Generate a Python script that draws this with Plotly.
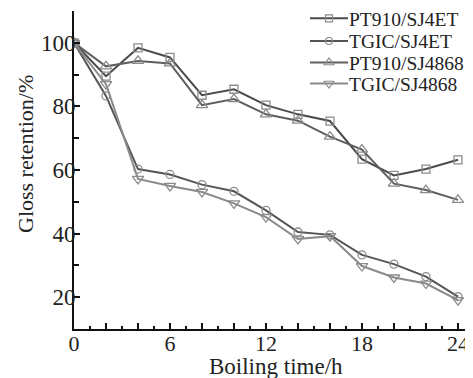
import plotly.graph_objects as go

hours = [0, 2, 4, 6, 8, 10, 12, 14, 16, 18, 20, 22, 24]
pt910_sj4et = [100, 89.5, 98.4, 95.4, 83.5, 85.4, 80.4, 77.5, 75.4, 63.4, 58.3, 60.3, 63.2]
tgic_sj4et = [100, 83.3, 60.3, 58.6, 55.4, 53.3, 47.3, 40.5, 39.6, 33.3, 30.4, 26.5, 20.2]
pt910_sj4868 = [100, 92.6, 94.3, 93.5, 80.4, 82.3, 77.5, 75.5, 70.5, 66.4, 55.7, 53.7, 50.6]
tgic_sj4868 = [100, 87.0, 57.2, 55.0, 53.1, 49.5, 45.2, 38.3, 39.2, 29.8, 26.2, 24.3, 19.1]

series_names = ["PT910/SJ4ET", "TGIC/SJ4ET", "PT910/SJ4868", "TGIC/SJ4868"]
series_vals = [pt910_sj4et, tgic_sj4et, pt910_sj4868, tgic_sj4868]
symbols = ["square-open", "circle-open", "triangle-up-open", "triangle-down-open"]
line_colors = ["#4a4a4a", "#555555", "#5e5e5e", "#8a8a8a"]
marker_sizes = [8, 8, 10, 10]

x_tickvals = list(range(0, 25, 2))
x_ticktext = [str(v) if v % 6 == 0 else "" for v in x_tickvals]
y_tickvals = [20, 40, 60, 80, 100]

# page body has an 8px margin: build the figure 8px smaller and shifted
OFF = 8
W, H = 473 - OFF, 378 - OFF
ML, MR, MT, MB = 74 - OFF, 0, 11 - OFF, 49
PW, PH = W - ML - MR, H - MT - MB
font = "Liberation Serif, Times New Roman, serif"
marker_color = "#8c8c8c"
text_color = "#222222"


def xp(sx):
    return (sx - OFF - ML) / PW


def yp(sy):
    return 1 - (sy - OFF - MT) / PH


fig = go.Figure()
for name, vals, sym, col, ms in zip(series_names, series_vals, symbols, line_colors, marker_sizes):
    fig.add_trace(go.Scatter(
        x=hours, y=vals, name=name, mode="lines+markers", showlegend=False,
        line=dict(color=col, width=2),
        marker=dict(symbol=sym, size=ms, color=marker_color, line=dict(width=1.3, color=marker_color)),
    ))

# Custom legend drawn on a hidden overlay axis measured in screen pixels
legend_rows = [18.3, 41.0, 62.5, 83.5]
leg_x0, leg_x1, leg_text_x = 310, 348, 347
for name, sym, col, ms, ry in zip(series_names, symbols, line_colors, marker_sizes, legend_rows):
    fig.add_trace(go.Scatter(
        x=[leg_x0, leg_x1], y=[ry, ry], mode="lines", xaxis="x2", yaxis="y2",
        line=dict(color=col, width=2), showlegend=False, hoverinfo="skip",
    ))
    fig.add_trace(go.Scatter(
        x=[(leg_x0 + leg_x1) / 2], y=[ry], mode="markers", xaxis="x2", yaxis="y2",
        marker=dict(symbol=sym, size=ms - 1, color=marker_color, line=dict(width=1.2, color=marker_color)),
        showlegend=False, hoverinfo="skip",
    ))
    fig.add_annotation(
        x=xp(leg_text_x), y=yp(ry + 1), xref="paper", yref="paper", text=name, showarrow=False,
        xanchor="left", yanchor="middle", font=dict(size=19.5, family=font, color=text_color),
    )

# Axis titles
fig.add_annotation(
    x=xp(276), y=yp(366), xref="paper", yref="paper", text="Boiling time/h", showarrow=False,
    xanchor="center", yanchor="middle",
    font=dict(size=23, family=font, color=text_color),
)
fig.add_annotation(
    x=xp(25), y=yp(154), xref="paper", yref="paper", text="Gloss retention/%", showarrow=False,
    textangle=-90, xanchor="center", yanchor="middle",
    font=dict(size=22, family=font, color=text_color),
)

fig.update_layout(
    width=W, height=H,
    margin=dict(l=ML, r=MR, t=MT, b=MB),
    paper_bgcolor="white", plot_bgcolor="white",
    font=dict(family=font, color=text_color, size=22),
    showlegend=False,
    xaxis=dict(
        range=[0, 24.94], showgrid=False, zeroline=False, automargin=False,
        showline=True, linecolor="#111111", linewidth=2,
        tickvals=x_tickvals, ticktext=x_ticktext,
        ticks="inside", ticklen=6, tickwidth=2, tickcolor="#111111",
        minor=dict(dtick=1, tick0=0, ticks="inside", ticklen=3, tickwidth=2, tickcolor="#111111"),
        tickfont=dict(size=22, family=font, color=text_color),
        ticklabelstandoff=-6,
    ),
    yaxis=dict(
        range=[10, 110], showgrid=False, zeroline=False, automargin=False,
        showline=True, linecolor="#111111", linewidth=2,
        tickvals=y_tickvals,
        ticks="inside", ticklen=6, tickwidth=2, tickcolor="#111111",
        minor=dict(dtick=10, tick0=0, ticks="inside", ticklen=5, tickwidth=2, tickcolor="#111111"),
        tickfont=dict(size=23, family=font, color=text_color),
        ticklabelstandoff=-8,
    ),
    xaxis2=dict(overlaying="x", range=[74, 473], visible=False, fixedrange=True),
    yaxis2=dict(overlaying="y", range=[11 + PH, 11], visible=False, fixedrange=True),
)

fig.write_html("out.html")
